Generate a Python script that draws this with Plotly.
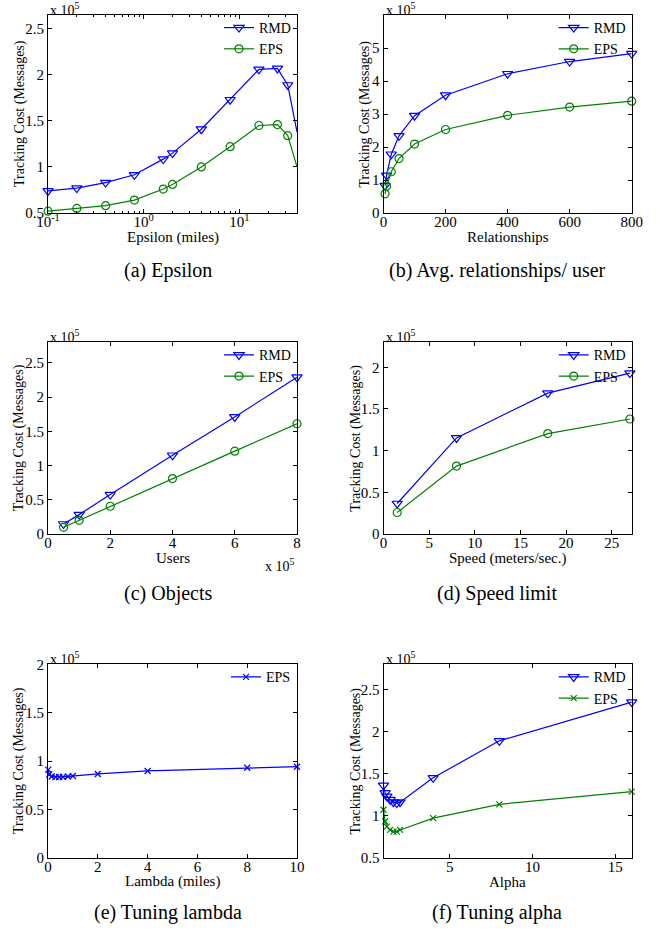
import plotly.graph_objects as go

FONT = "Liberation Serif"
BLUE = "#0000ff"
GREEN = "#008000"

# ---------------- data (cost values in units of 10^5 messages) ----------------
# (a) Epsilon
a_x = [0.1, 0.2, 0.4, 0.8, 1.6, 2, 4, 8, 16, 25, 32, 40]
a_rmd = [0.74, 0.77, 0.83, 0.915, 1.085, 1.15, 1.41, 1.73, 2.06, 2.07, 1.89, 1.38]
a_eps = [0.52, 0.55, 0.58, 0.64, 0.76, 0.81, 1.0, 1.22, 1.45, 1.46, 1.34, 1.0]

# (b) Avg. relationships / user
b_x = [5, 10, 25, 50, 100, 200, 400, 600, 800]
b_rmd = [0.83, 1.14, 1.78, 2.34, 2.95, 3.57, 4.22, 4.59, 4.83]
b_eps = [0.58, 0.81, 1.25, 1.65, 2.09, 2.53, 2.96, 3.21, 3.39]

# (c) Objects (users, x 10^5)
c_x = [0.5, 1, 2, 4, 6, 8]
c_rmd = [0.146, 0.283, 0.576, 1.15, 1.71, 2.29]
c_eps = [0.098, 0.20, 0.405, 0.81, 1.21, 1.61]

# (d) Speed limit
d_x = [1.5, 8, 18, 27]
d_rmd = [0.366, 1.153, 1.69, 1.93]
d_eps = [0.258, 0.815, 1.205, 1.38]

# (e) Tuning lambda
e_x = [0.01, 0.05, 0.15, 0.3, 0.45, 0.6, 0.8, 1, 2, 4, 8, 10]
e_eps = [0.91, 0.86, 0.84, 0.835, 0.835, 0.835, 0.84, 0.845, 0.866, 0.897, 0.93, 0.941]

# (f) Tuning alpha
f_x = [1, 1.1, 1.2, 1.4, 1.6, 1.8, 2, 4, 8, 16]
f_rmd = [1.36, 1.27, 1.23, 1.19, 1.16, 1.15, 1.16, 1.45, 1.89, 2.35]
f_eps = [1.07, 0.93, 0.87, 0.83, 0.81, 0.81, 0.83, 0.97, 1.135, 1.285]

captions = ["(a) Epsilon", "(b) Avg. relationships/ user", "(c) Objects",
            "(d) Speed limit", "(e) Tuning lambda", "(f) Tuning alpha"]
xtitles = ["Epsilon (miles)", "Relationships", "Users",
           "Speed (meters/sec.)", "Lambda (miles)", "Alpha"]
ytitle = "Tracking Cost (Messages)"

# ---------------- layout geometry ----------------
W, H = 657, 932
def px(x):
    return x / W
def py(y):
    return 1 - y / H

xdom_left = [px(48), px(297)]
xdom_right = [px(383.5), px(631.7)]
ydoms = [[py(213), py(15)], [py(534), py(342.3)], [py(857.7), py(664.3)]]
ytitle_shift = [-28, -19, -29, -27, -29, -28]

fig = go.Figure()

RMD_MARK = dict(symbol="triangle-down-open", size=9, line=dict(width=1.2))
CIRC_MARK = dict(symbol="circle-open", size=8, line=dict(width=1.2))
X_MARK = dict(symbol="x-thin-open", size=6, line=dict(width=1.2))

def add(x, y, name, color, marker, idx, showlegend=True):
    sfx = "" if idx == 1 else str(idx)
    fig.add_trace(go.Scatter(
        x=x, y=y, name=name, mode="lines+markers",
        line=dict(color=color, width=1.2),
        marker=dict(color=color, **marker),
        xaxis="x" + sfx, yaxis="y" + sfx, cliponaxis=False,
        legend="legend" + sfx, showlegend=showlegend,
    ))

add(a_x, a_rmd, "RMD", BLUE, RMD_MARK, 1)
add(a_x, a_eps, "EPS", GREEN, CIRC_MARK, 1)
add(b_x, b_rmd, "RMD", BLUE, RMD_MARK, 2)
add(b_x, b_eps, "EPS", GREEN, CIRC_MARK, 2)
add(c_x, c_rmd, "RMD", BLUE, RMD_MARK, 3)
add(c_x, c_eps, "EPS", GREEN, CIRC_MARK, 3)
add(d_x, d_rmd, "RMD", BLUE, RMD_MARK, 4)
add(d_x, d_eps, "EPS", GREEN, CIRC_MARK, 4)
add(e_x, e_eps, "EPS", BLUE, X_MARK, 5)
add(f_x, f_rmd, "RMD", BLUE, RMD_MARK, 6)
add(f_x, f_eps, "EPS", GREEN, X_MARK, 6)

tickfont = dict(family=FONT, size=15, color="black")
xtitlefont = dict(family=FONT, size=15, color="black")
ytitlefont = dict(family=FONT, size=14, color="black")

def axis_common():
    return dict(showline=True, linecolor="black", linewidth=1, mirror="ticks",
                ticks="inside", ticklen=4, tickcolor="black", tickwidth=1,
                showgrid=False, zeroline=False, tickfont=tickfont,
                automargin=False)

xranges = [None, [0, 800], [0, 8], [0, 27.2], [0, 10], [1, 16]]
xdticks = [None, 200, 2, 5, 2, 5]
yranges = [[0.5, 2.65], [0, 6], [0, 2.8], [0, 2.3], [0, 2], [0.5, 2.8]]
yticks = [[0.5, 1, 1.5, 2, 2.5], [0, 1, 2, 3, 4, 5], [0, 0.5, 1, 1.5, 2, 2.5],
          [0, 0.5, 1, 1.5, 2], [0, 0.5, 1, 1.5, 2], [0.5, 1, 1.5, 2, 2.5]]

layout = dict(width=W, height=H, margin=dict(l=0, r=0, t=0, b=0),
              template="none",
              paper_bgcolor="white", plot_bgcolor="white",
              font=dict(family=FONT, color="black"))

annotations = []
for i in range(6):
    n = i + 1
    sfx = "" if n == 1 else str(n)
    xd = xdom_left if i % 2 == 0 else xdom_right
    yd = ydoms[i // 2]
    xa = axis_common()
    xa.update(domain=xd, anchor="y" + sfx, ticklabelstandoff=-5)
    if i == 0:
        xa.update(type="log", range=[-1, 1.602],
                  tickvals=[0.1, 1, 10],
                  ticktext=["10<sup>-1</sup>", "10<sup>0</sup>", "10<sup>1</sup>"],
                  minor=dict(ticks="inside", ticklen=2, tickcolor="black",
                             tickvals=[0.2, 0.3, 0.4, 0.5, 0.6, 0.7, 0.8, 0.9,
                                       2, 3, 4, 5, 6, 7, 8, 9, 20, 30, 40],
                             showgrid=False))
    elif i == 5:
        xa.update(range=xranges[i], tickvals=[5, 10, 15])
    else:
        xa.update(range=xranges[i], dtick=xdticks[i], tick0=0)
    ya = axis_common()
    ya.update(domain=yd, anchor="x" + sfx, range=yranges[i],
              tickvals=yticks[i])
    layout["xaxis" + sfx] = xa
    layout["yaxis" + sfx] = ya

    # x axis title
    annotations.append(dict(
        text=xtitles[i], x=(xd[0] + xd[1]) / 2, y=yd[0], xref="paper",
        yref="paper", xanchor="center", yanchor="middle", showarrow=False,
        yshift=-24, font=xtitlefont))
    # y axis title
    annotations.append(dict(
        text=ytitle, x=xd[0], y=(yd[0] + yd[1]) / 2, xref="paper",
        yref="paper", xanchor="center", yanchor="middle", showarrow=False,
        textangle=-90, xshift=ytitle_shift[i], font=ytitlefont))

    # legend inside top-right
    layout["legend" + sfx] = dict(
        x=xd[1] - px(1), xanchor="right", y=yd[1] + 3 / H, yanchor="top",
        bgcolor="rgba(0,0,0,0)", borderwidth=0,
        font=dict(family=FONT, size=14, color="black"),
        itemwidth=30, tracegroupgap=0)

    # exponent label above the y axis
    annotations.append(dict(
        text="x 10<sup>5</sup>", x=xd[0], y=yd[1], xref="paper", yref="paper",
        xanchor="left", yanchor="bottom", showarrow=False, yshift=-5,
        font=dict(family=FONT, size=14, color="black")))

    # caption
    cy = [270, 593, 912][i // 2]
    cx = 168 if i % 2 == 0 else 497
    annotations.append(dict(
        text=captions[i], x=px(cx), y=py(cy), xref="paper", yref="paper",
        xanchor="center", yanchor="middle", showarrow=False,
        font=dict(family=FONT, size=20, color="black")))

# exponent label on the x axis of panel (c)
annotations.append(dict(
    text="x 10<sup>5</sup>", x=xdom_left[1], y=ydoms[1][0], xref="paper",
    yref="paper", xanchor="right", yanchor="top", showarrow=False, yshift=-20,
    font=dict(family=FONT, size=14, color="black")))

layout["annotations"] = annotations
fig.update_layout(**layout)
fig.write_html("out.html", config={"displayModeBar": False},
               post_script="document.body.style.margin='0px';"
                           "document.body.style.padding='0px';")
